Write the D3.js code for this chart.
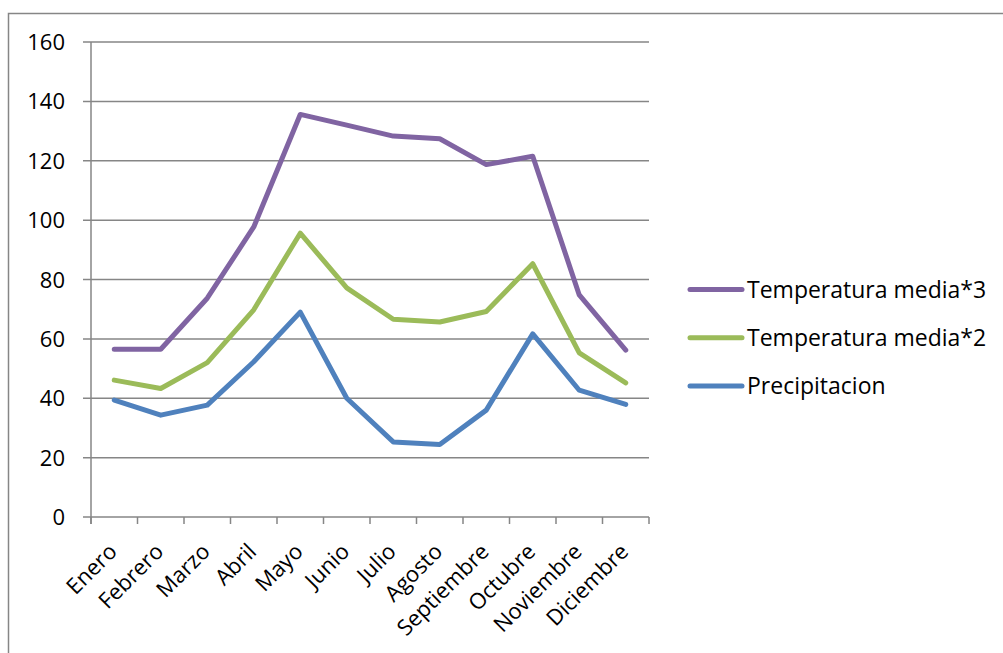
<!DOCTYPE html>
<html>
<head>
<meta charset="utf-8">
<script src="https://cdn.jsdelivr.net/npm/d3@7"></script>
<style>
  body { margin: 0; background: #fff; }
  svg text { font-family: "Open Sans", "Noto Sans", sans-serif; fill: #000; }
</style>
</head>
<body>
<div id="chart"></div>
<script>
var months = ['Enero', 'Febrero', 'Marzo', 'Abril', 'Mayo', 'Junio', 'Julio',
  'Agosto', 'Septiembre', 'Octubre', 'Noviembre', 'Diciembre'];
var temp3 = [56.5, 56.5, 73.7, 97.7, 135.6, 132, 128.3, 127.4, 118.7, 121.5, 74.8, 56.2];
var temp2 = [46.1, 43.3, 52, 69.8, 95.6, 77.2, 66.6, 65.7, 69.2, 85.3, 55.3, 45.2];
var precip = [39.4, 34.3, 37.7, 52.3, 69, 40, 25.3, 24.4, 36, 61.7, 42.7, 37.9];
var yTicks = [0, 20, 40, 60, 80, 100, 120, 140, 160];
var seriesNames = ['Temperatura media*3', 'Temperatura media*2', 'Precipitacion'];

var series = [
  {name: seriesNames[0], values: temp3, color: '#8064A2'},
  {name: seriesNames[1], values: temp2, color: '#9BBB59'},
  {name: seriesNames[2], values: precip, color: '#4F81BD'}
];

var W = 1003, H = 653;
var plotLeft = 91, plotRight = 649, plotTop = 42, plotBottom = 517;

var svg = d3.select('#chart').append('svg')
  .attr('width', W)
  .attr('height', H);

// outer chart frame (runs past the window)
svg.append('rect')
  .attr('x', 8.5).attr('y', 13.5)
  .attr('width', 1100).attr('height', 800)
  .style('fill', 'none')
  .style('stroke', '#868686')
  .style('stroke-width', 1.5);

var x = d3.scaleBand().domain(months).range([plotLeft, plotRight]);
var y = d3.scaleLinear().domain([0, 160]).range([plotBottom, plotTop]);

// gridlines
svg.append('g')
  .selectAll('line')
  .data(yTicks)
  .enter()
  .append('line')
  .attr('x1', plotLeft - 8).attr('x2', plotRight)
  .attr('y1', function(d) {return y(d);})
  .attr('y2', function(d) {return y(d);})
  .style('stroke', '#868686')
  .style('stroke-width', 1.5);

// y axis line
svg.append('line')
  .attr('x1', plotLeft).attr('x2', plotLeft)
  .attr('y1', plotTop).attr('y2', plotBottom + 7)
  .style('stroke', '#868686')
  .style('stroke-width', 1.5);

// y labels
svg.append('g')
  .selectAll('text')
  .data(yTicks)
  .enter()
  .append('text')
  .attr('x', 65)
  .attr('y', function(d) {return y(d) + 8;})
  .style('text-anchor', 'end')
  .style('font-size', '22px')
  .text(function(d) {return d;});

// x ticks at category boundaries
var bounds = months.map(function(m) {return x(m);}).concat([plotRight]);
svg.append('g')
  .selectAll('line')
  .data(bounds)
  .enter()
  .append('line')
  .attr('x1', function(d) {return d;})
  .attr('x2', function(d) {return d;})
  .attr('y1', plotBottom).attr('y2', plotBottom + 7)
  .style('stroke', '#868686')
  .style('stroke-width', 1.5);

// x labels
svg.append('g')
  .selectAll('text')
  .data(months)
  .enter()
  .append('text')
  .attr('transform', function(d) {
    return 'translate(' + (x(d) + x.bandwidth() / 2 + 4) + ',' + 553 + ') rotate(-45)';
  })
  .style('text-anchor', 'end')
  .style('font-size', '22px')
  .text(function(d) {return d;});

var line = d3.line()
  .x(function(d, i) {return x(months[i]) + x.bandwidth() / 2;})
  .y(function(d) {return y(d);});

series.forEach(function(s) {
  svg.append('path')
    .datum(s.values)
    .attr('d', line)
    .style('fill', 'none')
    .style('stroke', s.color)
    .style('stroke-width', 5)
    .style('stroke-linejoin', 'round')
    .style('stroke-linecap', 'round');
});

// legend
var legend = svg.append('g');
series.forEach(function(s, i) {
  var ly = 289.5 + i * 48.3;
  legend.append('line')
    .attr('x1', 690).attr('x2', 742)
    .attr('y1', ly).attr('y2', ly)
    .style('stroke', s.color)
    .style('stroke-width', 5)
    .style('stroke-linecap', 'round');
  legend.append('text')
    .attr('x', 747)
    .attr('y', ly + 8)
    .style('font-size', '23px')
    .text(s.name);
});
</script>
</body>
</html>
